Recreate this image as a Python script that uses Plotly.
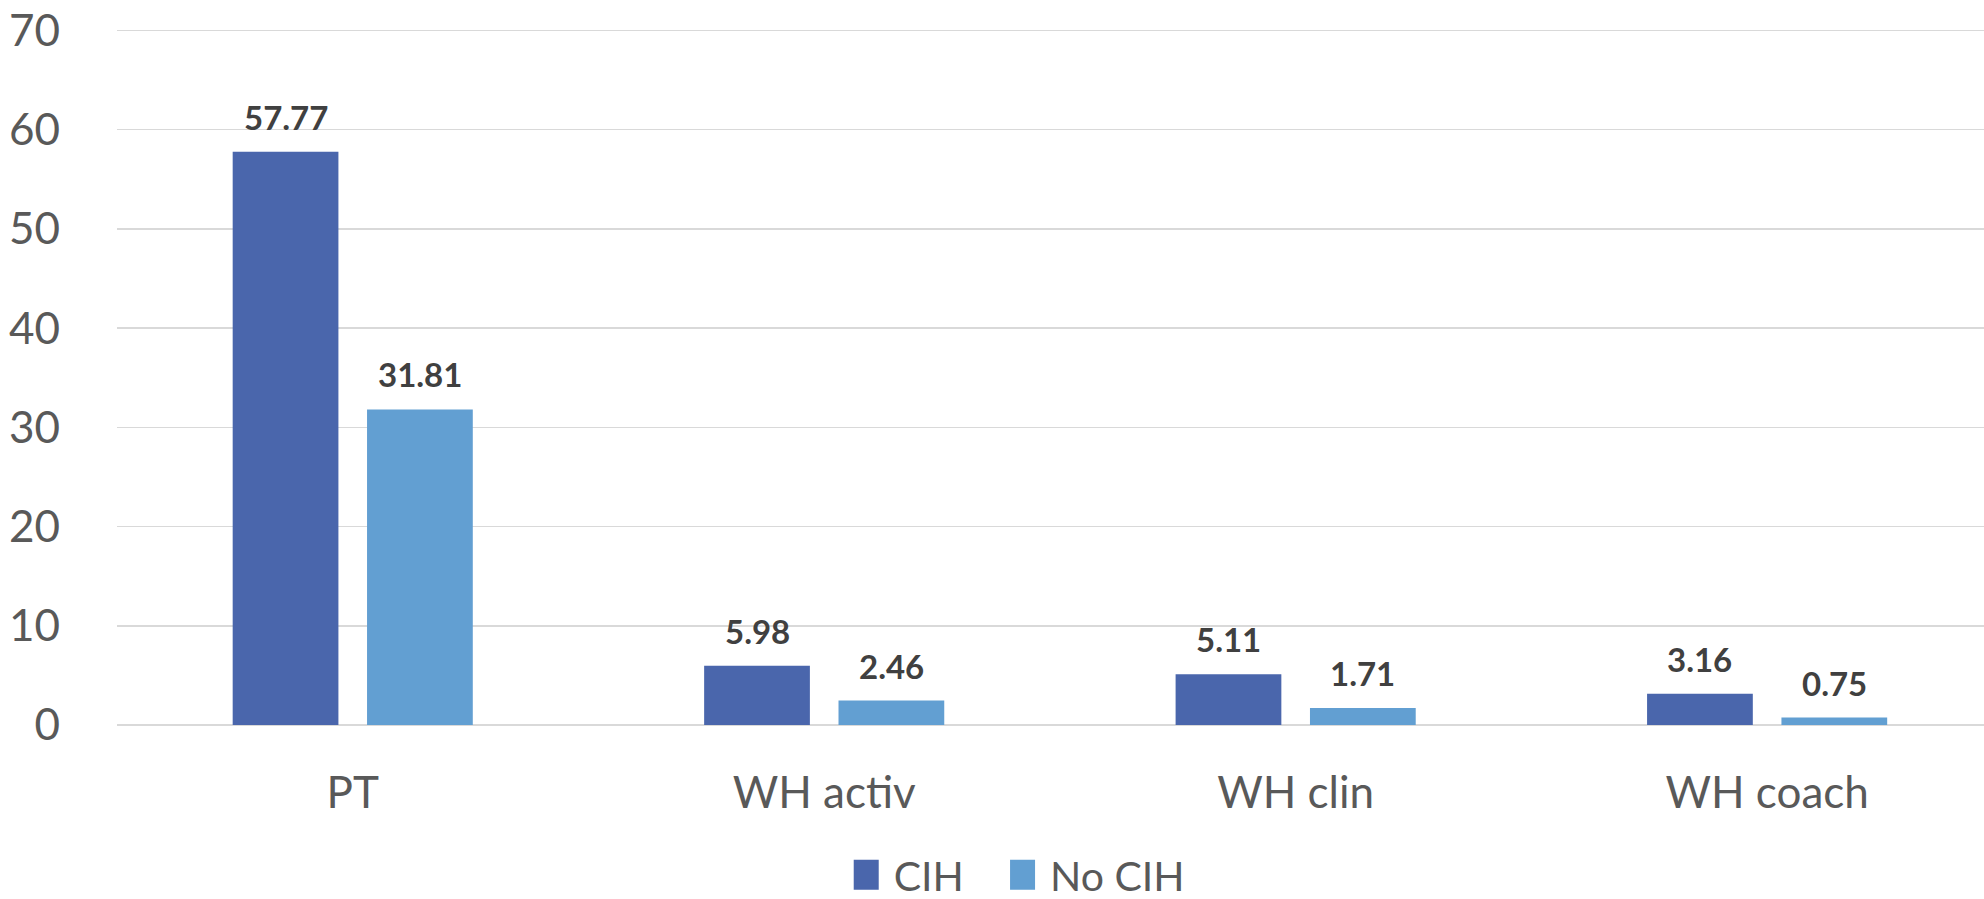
import plotly.graph_objects as go

categories = ["PT", "WH activ", "WH clin", "WH coach"]
cih_values = [57.77, 5.98, 5.11, 3.16]
no_cih_values = [31.81, 2.46, 1.71, 0.75]
series_names = ["CIH", "No CIH"]
y_ticks = [0, 10, 20, 30, 40, 50, 60, 70]

COL_CIH = "#4A66AC"
COL_NO = "#629FD2"
FONT = "Lato"
TXT = "#595959"
LBL = "#404040"

fig = go.Figure()
fig.add_trace(go.Bar(x=categories, y=cih_values, name=series_names[0],
                     marker=dict(color=COL_CIH, line=dict(width=0)),
                     hoverinfo="skip", legend="legend"))
fig.add_trace(go.Bar(x=categories, y=no_cih_values, name=series_names[1],
                     marker=dict(color=COL_NO, line=dict(width=0)),
                     hoverinfo="skip", legend="legend2"))

annotations = []
for vals, shift in ((cih_values, -67.2), (no_cih_values, 67.2)):
    for c, v in zip(categories, vals):
        annotations.append(dict(
            x=c, y=v, xref="x", yref="y", text=f"<b>{v:.2f}</b>",
            showarrow=False, xshift=shift, yshift=13, yanchor="bottom",
            xanchor="center",
            font=dict(family=FONT, size=33, color=LBL)))

legend_common = dict(orientation="h", xref="container", yref="container",
                     xanchor="left", y=0.0267, yanchor="middle",
                     font=dict(family=FONT, size=41, color=TXT),
                     itemwidth=30, bgcolor="rgba(0,0,0,0)")

fig.update_layout(
    width=1984, height=899,
    margin=dict(l=117, r=0, t=27.5, b=174, pad=0),
    paper_bgcolor="white", plot_bgcolor="white",
    barmode="group", bargap=0.43, bargroupgap=0.213,
    font=dict(family=FONT, color=TXT),
    showlegend=True,
    legend=dict(x=0.4303, **legend_common),
    legend2=dict(x=0.5091, **legend_common),
    annotations=annotations,
)
fig.update_xaxes(range=[-0.5, 3.46], showgrid=False, zeroline=False,
                 showline=False, ticks="", automargin=False,
                 tickfont=dict(family=FONT, size=44, color=TXT),
                 ticklabelstandoff=38)
fig.update_yaxes(range=[0, 70.25], tickvals=y_ticks, showgrid=True,
                 gridcolor="#D9D9D9", gridwidth=1.5, zeroline=True,
                 zerolinecolor="#D9D9D9", zerolinewidth=1.5, showline=False,
                 ticks="", automargin=False, ticklabeloverflow="allow",
                 tickfont=dict(family=FONT, size=44, color=TXT),
                 ticklabelstandoff=56)

post = """
document.body.style.margin = '0';
var gd = document.getElementById('{plot_id}');
function fixLegend(){
  gd.querySelectorAll('.legendpoints path').forEach(function(p){
    p.setAttribute('d','M5,15H-25V-15H5Z');
  });
}
fixLegend();
gd.on('plotly_afterplot', fixLegend);
setTimeout(fixLegend, 200);
setTimeout(fixLegend, 800);
"""
fig.write_html("out.html", post_script=post,
               config={"displayModeBar": False, "staticPlot": True})
